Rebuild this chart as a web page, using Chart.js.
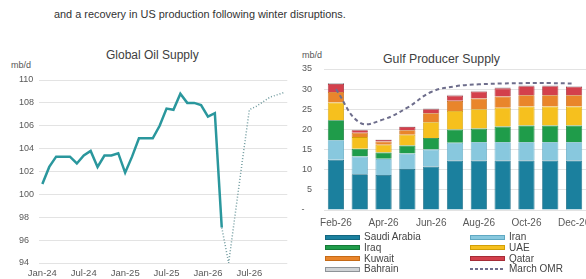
<!DOCTYPE html>
<html>
<head>
<meta charset="utf-8">
<script src="https://cdn.jsdelivr.net/npm/chart.js@4.4.1/dist/chart.umd.min.js"></script>
<style>
  body { margin: 0; width: 586px; height: 279px; overflow: hidden; background: #fff; position: relative;
         font-family: "Liberation Sans", Arial, sans-serif; }
  .txt { position: absolute; white-space: nowrap; color: #444; }
  canvas { position: absolute; top: 0; }
  .lg { position: absolute; font-size: 10px; color: #444; white-space: nowrap; line-height: 10px; }
  .sw { position: absolute; width: 35px; height: 5px; box-sizing: border-box; }
</style>
</head>
<body>
<div class="txt" style="left:54px;top:8px;font-size:10.9px;color:#333">and a recovery in US production following winter disruptions.</div>
<div class="txt" style="left:106px;top:48px;font-size:12px;color:#404040">Global Oil Supply</div>
<div class="txt" style="left:11px;top:60px;font-size:9px;color:#555">mb/d</div>
<div class="txt" style="left:383px;top:52px;font-size:12.3px;color:#404040">Gulf Producer Supply</div>
<div class="txt" style="left:302px;top:50px;font-size:9px;color:#555">mb/d</div>

<canvas id="supply" width="292" height="279" style="left:0"></canvas>
<canvas id="gulf" width="310" height="279" style="left:292px"></canvas>
<div id="legend"></div>

<script>
// ---- Global oil supply (mb/d), monthly Jan-24 .. Dec-26
const supplyMonths = [
  'Jan-24','Feb-24','Mar-24','Apr-24','May-24','Jun-24','Jul-24','Aug-24','Sep-24','Oct-24','Nov-24','Dec-24',
  'Jan-25','Feb-25','Mar-25','Apr-25','May-25','Jun-25','Jul-25','Aug-25','Sep-25','Oct-25','Nov-25','Dec-25',
  'Jan-26','Feb-26','Mar-26','Apr-26','May-26','Jun-26','Jul-26','Aug-26','Sep-26','Oct-26','Nov-26','Dec-26'
];
// actual: Jan-24 .. Mar-26
const supplyActual = [
  100.9, 102.4, 103.3, 103.3, 103.3, 102.7, 103.4, 103.8, 102.4, 103.4, 103.4, 103.6,
  101.9, 103.3, 104.9, 104.9, 104.9, 106.0, 107.5, 107.4, 108.8, 108.0, 108.0, 107.8,
  106.8, 107.1, 97.1
];
// forecast: Mar-26 .. Dec-26
const supplyForecast = [97.1, 94.0, 98.5, 103.0, 107.4, 107.7, 108.1, 108.5, 108.7, 108.9];

// ---- Gulf producer supply (mb/d), Feb-26 .. Dec-26
const gulfMonths = ['Feb-26','Mar-26','Apr-26','May-26','Jun-26','Jul-26','Aug-26','Sep-26','Oct-26','Nov-26','Dec-26'];
const saudiArabia = [12.5, 8.9, 8.7, 10.2, 10.8, 12.3, 12.3, 12.3, 12.3, 12.3, 12.3];
const iran        = [4.8, 4.4, 4.0, 3.8, 4.2, 4.4, 4.5, 4.5, 4.5, 4.5, 4.5];
const iraq        = [5.0, 1.9, 1.6, 2.0, 2.9, 3.3, 3.4, 3.9, 4.2, 4.2, 4.2];
const uae         = [4.4, 2.9, 1.9, 2.7, 3.9, 4.6, 4.8, 4.7, 4.7, 4.7, 4.7];
const kuwait      = [2.6, 1.1, 0.8, 1.1, 2.2, 2.5, 2.7, 2.8, 2.8, 2.8, 2.8];
const qatar       = [2.0, 0.6, 0.4, 0.8, 1.0, 1.3, 1.7, 2.0, 2.2, 2.2, 2.1];
const bahrain     = [0.2, 0.1, 0.1, 0.1, 0.2, 0.2, 0.2, 0.2, 0.2, 0.2, 0.2];
const marchOMR    = [30.0, 21.7, 22.5, 25.4, 29.3, 30.7, 31.2, 31.4, 31.5, 31.5, 31.4];

const tickFont = { family: '"Liberation Sans", Arial, sans-serif', size: 9 };
const tickColor = '#595959';
const gridColor = '#e3e3e3';

// pad the two line pieces out to the full month axis
const actualData = supplyActual.concat(new Array(supplyMonths.length - supplyActual.length).fill(null));
const forecastData = new Array(supplyMonths.length - supplyForecast.length).fill(null).concat(supplyForecast);

new Chart(document.getElementById('supply'), {
  type: 'line',
  data: {
    labels: supplyMonths,
    datasets: [
      { data: actualData, borderColor: '#2a979d', borderWidth: 2.5, pointRadius: 0, tension: 0 },
      { data: forecastData, borderColor: '#6f9a9e', borderWidth: 1.5, borderDash: [1, 2], pointRadius: 0, tension: 0 }
    ]
  },
  options: {
    responsive: false,
    animation: false,
    layout: { padding: { left: 19, right: 4.7, top: 80, bottom: 0 } },
    plugins: { legend: { display: false }, tooltip: { enabled: false } },
    scales: {
      x: {
        offset: true,
        grid: { display: false, drawTicks: false },
        border: { display: false },
        ticks: {
          autoSkip: false, maxRotation: 0, padding: 5, color: tickColor,
          font: { family: tickFont.family, size: 9.5 },
          callback: function (v, i) { return i % 6 === 0 ? this.getLabelForValue(v) : ''; }
        },
        afterFit: s => { s.height = 16; }
      },
      y: {
        min: 94, max: 110,
        grid: { color: gridColor, drawTicks: false },
        border: { display: false },
        ticks: { stepSize: 2, crossAlign: 'far', padding: 0, color: tickColor, font: tickFont },
        afterFit: s => { s.width = 19.9; }
      }
    }
  }
});

// stacking order bottom -> top, legend goes row by row
const gulfSeries = [
  { name: 'Saudi Arabia', data: saudiArabia, color: '#1b809e', edge: '#136780' },
  { name: 'Iran',         data: iran,        color: '#88c8de', edge: '#5fa8c2' },
  { name: 'Iraq',         data: iraq,        color: '#1f9c4a', edge: '#157a37' },
  { name: 'UAE',          data: uae,         color: '#f6c01e', edge: '#d29f06' },
  { name: 'Kuwait',       data: kuwait,      color: '#e9852b', edge: '#c56a17' },
  { name: 'Qatar',        data: qatar,       color: '#d3404c', edge: '#a52c37' },
  { name: 'Bahrain',      data: bahrain,     color: '#cfd3d6', edge: '#8e9398' }
];
const omrColor = '#6e6e8c';

const gulfDatasets = gulfSeries.map(s => ({
  type: 'bar', label: s.name, data: s.data,
  backgroundColor: s.color, borderColor: s.edge, borderWidth: 0.8,
  categoryPercentage: 1, barPercentage: 0.68, order: 1
}));
gulfDatasets.push({
  type: 'line', label: 'March OMR', data: marchOMR,
  borderColor: omrColor, borderWidth: 2, borderDash: [4, 3], pointRadius: 0,
  tension: 0.4, order: 0
});

new Chart(document.getElementById('gulf'), {
  data: { labels: gulfMonths, datasets: gulfDatasets },
  options: {
    responsive: false,
    animation: false,
    layout: { padding: { left: 0, right: 16, top: 69, bottom: 0 } },
    plugins: { legend: { display: false }, tooltip: { enabled: false } },
    scales: {
      x: {
        stacked: true,
        grid: { display: false, drawTicks: false },
        border: { display: false },
        ticks: {
          autoSkip: false, maxRotation: 0, padding: 7, color: tickColor,
          font: { family: tickFont.family, size: 10 },
          callback: function (v, i) { return i % 2 === 0 ? this.getLabelForValue(v) : ''; }
        },
        afterFit: s => { s.height = 69; }
      },
      y: {
        stacked: true, min: 0, max: 35,
        grid: { color: gridColor, drawTicks: false },
        border: { display: false },
        ticks: {
          stepSize: 5, padding: 12, color: tickColor, font: tickFont,
          callback: v => v === 0 ? '-   ' : v
        },
        afterFit: s => { s.width = 32; }
      }
    }
  }
});

// legend, two columns filled row by row
const legendEl = document.getElementById('legend');
const legendRows = gulfSeries.map(s => ({ name: s.name, color: s.color, edge: s.edge }))
  .concat([{ name: 'March OMR', dashed: true }]);
legendRows.forEach((item, i) => {
  const col = i % 2, row = Math.floor(i / 2);
  const x = col === 0 ? 325 : 470;
  const yc = 237.3 + row * 10.6;
  const sw = document.createElement('div');
  sw.className = 'sw';
  sw.style.left = x + 'px';
  if (item.dashed) {
    sw.style.top = (yc - 1) + 'px';
    sw.style.height = '2px';
    sw.style.background = 'repeating-linear-gradient(90deg,' + omrColor + ' 0 3px, transparent 3px 5px)';
  } else {
    sw.style.top = (yc - 2.5) + 'px';
    sw.style.background = item.color;
    sw.style.border = '1px solid ' + item.edge;
  }
  legendEl.appendChild(sw);
  const t = document.createElement('div');
  t.className = 'lg';
  t.style.left = (x + 39) + 'px';
  t.style.top = (yc - 5) + 'px';
  t.textContent = item.name;
  legendEl.appendChild(t);
});
</script>
</body>
</html>
